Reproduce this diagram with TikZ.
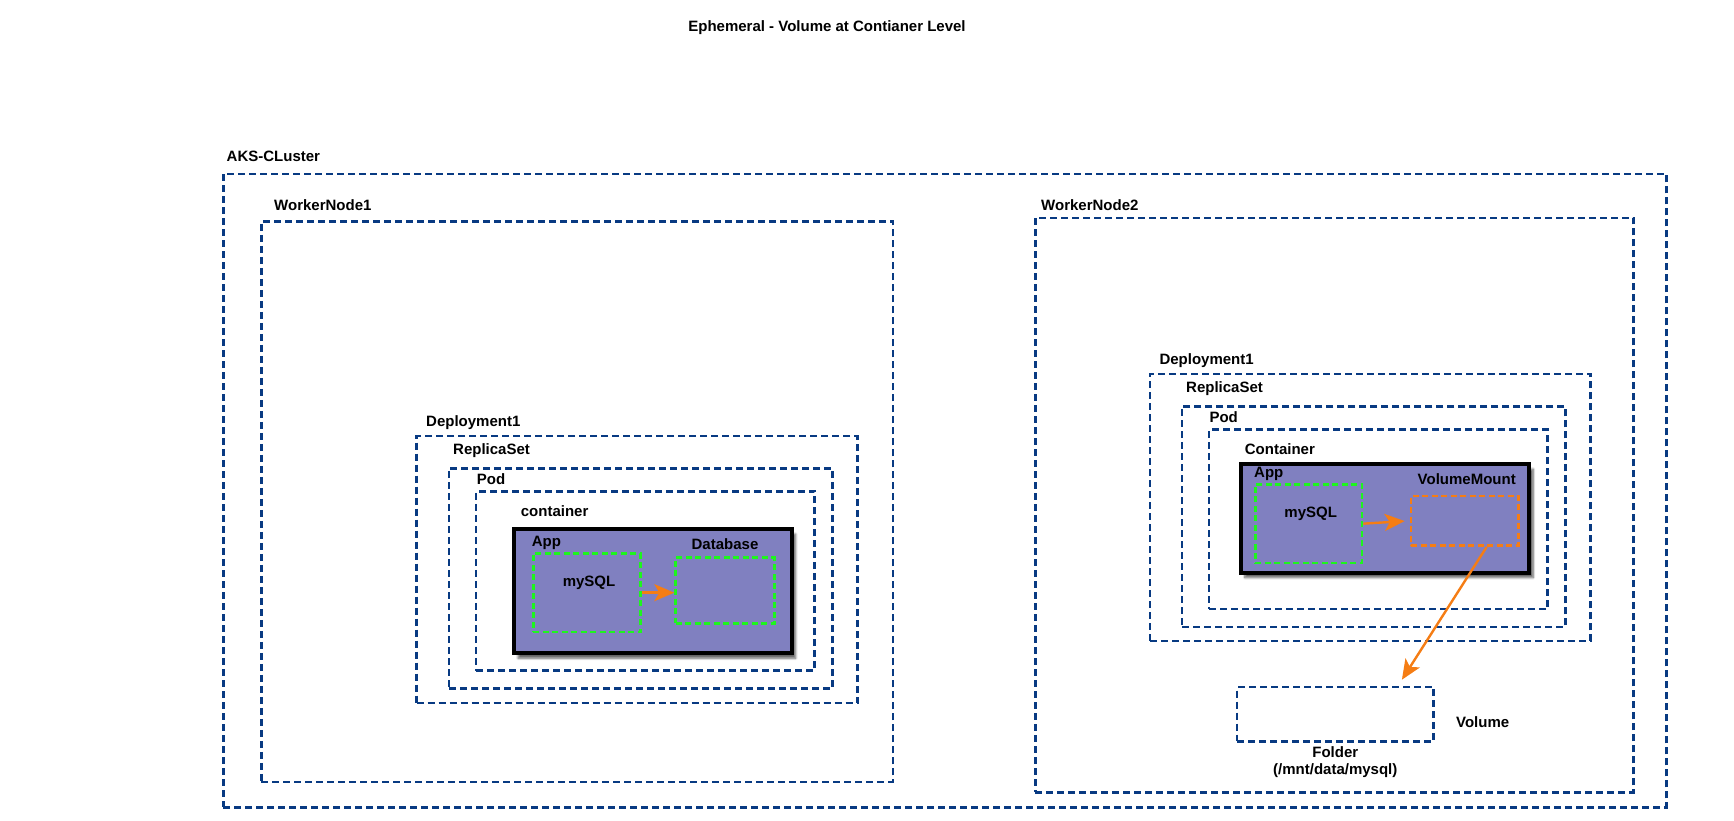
\documentclass[tikz,border=0pt]{standalone}
\usepackage{fontspec}
\setmainfont{Liberation Sans}
\usetikzlibrary{positioning,arrows.meta,shadows.blur}

\definecolor{zoneblue}{RGB}{8,58,130}
\definecolor{appgreen}{RGB}{30,245,30}
\definecolor{ctrfill}{RGB}{128,128,192}
\definecolor{mountorange}{RGB}{245,125,20}

\begin{document}
\begin{tikzpicture}[x=1pt,y=-1pt,
	every node/.style={font=\fontsize{15}{17}\selectfont\bfseries},
	zone/.style={draw=zoneblue,line width=2.6pt,dash pattern=on 7pt off 4pt,inner sep=0,anchor=north west},
	ctr/.style={draw=black,fill=ctrfill,line width=4pt,inner sep=0,anchor=north west,
		blur shadow={shadow xshift=4pt,shadow yshift=-5pt,shadow blur steps=8,shadow opacity=60}},
	part/.style={draw=appgreen,line width=2.6pt,dash pattern=on 6pt off 3.5pt,inner sep=0,anchor=north west},
	lbl/.style={inner sep=0,anchor=west},
	flow/.style={draw=mountorange,line width=2.4pt,-{Stealth[length=20pt,width=17pt,inset=5pt]}}]
	\useasboundingbox (0,0) rectangle (1734,820);
	\node (title) at (827,28) {Ephemeral - Volume at Contianer Level};
	% cluster and worker nodes
	\node[zone,minimum width=1443pt,minimum height=633.5pt] (aks) at (222,172.5) {};
	\node[lbl] at (226.5,156) {AKS-CLuster};
	\node[zone,minimum width=631.5pt,minimum height=560.5pt] (wn1) at (260,220) {};
	\node[lbl] at (274,205.5) {WorkerNode1};
	\node[zone,minimum width=598pt,minimum height=574.5pt] (wn2) at (1034,216.5) {};
	\node[lbl] at (1041,205) {WorkerNode2};
	% worker node 1
	\node[zone,minimum width=440.7pt,minimum height=267pt] (dep1) at (415.3,434.7) {};
	\node[lbl] at (426,422.5) {Deployment1};
	\node[zone,minimum width=383.3pt,minimum height=220.3pt] (rs1) at (447.7,467) {};
	\node[lbl] at (453,451) {ReplicaSet};
	\node[zone,minimum width=338.6pt,minimum height=179.3pt] (pod1) at (474.7,490) {};
	\node[lbl] at (476.7,479) {Pod};
	\node[lbl] at (520.7,511) {container};
	\node[ctr,minimum width=277.7pt,minimum height=124.3pt] (cnt1) at (512,527) {};
	\node[lbl] at (531.7,543.3) {App};
	\node[part,minimum width=107pt,minimum height=78.7pt] (app1) at (532,552) {};
	\node (sql1) at (589,583.3) {mySQL};
	\node (dbl) at (725,544.3) {Database};
	\node[part,minimum width=98.7pt,minimum height=65.7pt] (db1) at (674.3,556.3) {};
	\path[flow] (app1.east) -- (app1.east -| db1.west);
	% worker node 2
	\node[zone,minimum width=440.3pt,minimum height=267pt] (dep2) at (1148.7,372.7) {};
	\node[lbl] at (1159.3,361) {Deployment1};
	\node[zone,minimum width=383.3pt,minimum height=220.7pt] (rs2) at (1180.7,405) {};
	\node[lbl] at (1186,389) {ReplicaSet};
	\node[zone,minimum width=338.6pt,minimum height=179.4pt] (pod2) at (1207.7,428.3) {};
	\node[lbl] at (1209.3,416.7) {Pod};
	\node[lbl] at (1244.7,449) {Container};
	\node[ctr,minimum width=288.6pt,minimum height=108.7pt] (cnt2) at (1238.7,462) {};
	\node[lbl] at (1254,474) {App};
	\node[part,minimum width=106.7pt,minimum height=78.7pt] (app2) at (1254,483) {};
	\node (sql2) at (1310.7,514) {mySQL};
	\node (vml) at (1466.7,478.7) {VolumeMount};
	\node[part,draw=mountorange,minimum width=107.3pt,minimum height=49.6pt] (vm2) at (1409.7,494.7) {};
	\node[zone,minimum width=196.6pt,minimum height=54.3pt] (vol) at (1235.7,685.7) {};
	\node (voll) at (1482.7,721.7) {Volume};
	\node[align=center,inner sep=0,below=4pt of vol] (fold) {Folder\\(/mnt/data/mysql)};
	\coordinate (mnt) at ([xshift=22pt]vm2.south);
	\coordinate (dst) at ([xshift=-33pt,yshift=6pt]vol.north east);
	\path[flow,shorten >=5pt] (app2.east) -- (vm2.west);
	\path[flow] (mnt) -- (dst);
\end{tikzpicture}
\end{document}
